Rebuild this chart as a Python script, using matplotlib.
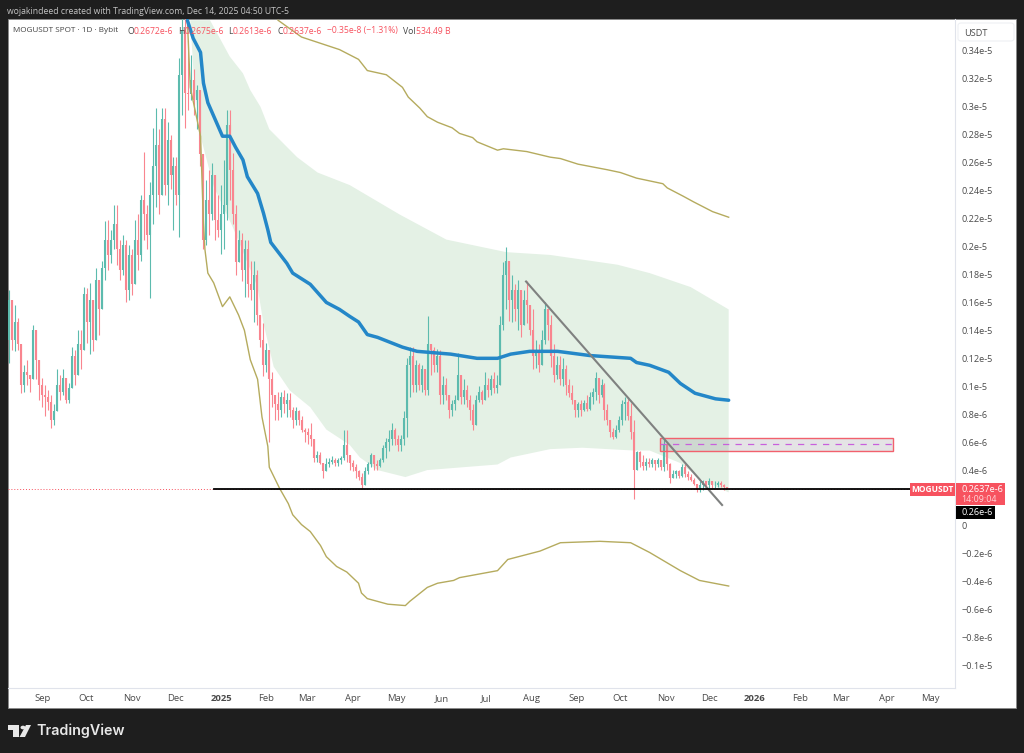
"""MOGUSDT daily chart, TradingView look."""

import numpy as np
import pandas as pd
import matplotlib
matplotlib.use("Agg")
import matplotlib.pyplot as plt
import matplotlib.dates as mdates
from matplotlib.patches import Rectangle, Polygon, Circle, FancyBboxPatch

plt.rcParams["font.family"] = ["Open Sans", "DejaVu Sans"]

# candles, prices in units of 1e-6
highs = [
    1.69, 1.60, 1.58, 1.49, 1.30, 1.15, 1.19, 1.06, 1.44, 1.40,
    1.10, 1.06, 1.01, 0.97, 0.94, 0.87, 1.12, 1.08, 1.12, 1.03,
    1.02, 1.28, 1.26, 1.40, 1.40, 1.71, 1.70, 1.74, 1.62, 1.85,
    1.69, 1.90, 2.18, 2.19, 2.12, 2.30, 2.30, 2.05, 2.08, 2.05,
    2.01, 1.98, 2.19, 2.23, 2.37, 2.68, 2.30, 2.46, 2.85, 2.99,
    2.84, 2.99, 2.99, 2.89, 2.80, 2.64, 2.64, 3.35, 3.70, 3.70,
    3.48, 3.37, 3.27, 3.16, 3.05, 2.62, 2.48, 2.55, 2.60, 2.41,
    2.37, 2.44, 2.62, 2.98, 2.98, 2.67, 2.30, 2.12, 2.10, 2.05,
    2.05, 1.90, 1.90, 1.83, 1.47, 1.45, 1.31, 1.10, 1.10, 0.94,
    0.96, 0.96, 0.97, 0.95, 0.95, 0.85, 0.85, 0.83, 0.79, 0.70,
    0.70, 0.74, 0.56, 0.54, 0.53, 0.45, 0.49, 0.49, 0.50, 0.49,
    0.49, 0.50, 0.69, 0.69, 0.49, 0.47, 0.44, 0.40, 0.38, 0.42,
    0.46, 0.52, 0.51, 0.47, 0.49, 0.58, 0.63, 0.69, 0.74, 0.70,
    0.65, 0.65, 0.82, 1.20, 1.28, 1.28, 1.19, 1.17, 1.15, 1.08,
    1.50, 1.30, 1.28, 1.27, 1.26, 1.07, 1.06, 0.94, 0.90, 0.94,
    1.24, 1.08, 1.05, 1.01, 0.94, 0.87, 0.94, 1.00, 0.97, 1.10,
    1.06, 1.08, 1.10, 1.08, 1.50, 1.89, 2.00, 1.83, 1.80, 1.73,
    1.76, 1.69, 1.69, 1.75, 1.58, 1.55, 1.33, 1.30, 1.40, 1.60,
    1.55, 1.51, 1.30, 1.22, 1.22, 1.20, 1.15, 1.05, 1.01, 0.90,
    0.89, 0.90, 0.90, 0.94, 0.96, 0.99, 1.10, 1.06, 1.05, 1.02,
    0.87, 0.76, 0.70, 0.72, 0.79, 0.90, 0.92, 0.92, 0.88, 0.76,
    0.54, 0.54, 0.51, 0.49, 0.49, 0.49, 0.47, 0.49, 0.47, 0.62,
    0.58, 0.45, 0.40, 0.40, 0.40, 0.44, 0.44, 0.39, 0.37, 0.34,
    0.30, 0.32, 0.33, 0.32, 0.34, 0.32, 0.32, 0.32, 0.32, 0.30,
    0.2675,
]
lows = [
    1.17, 1.26, 1.25, 1.26, 0.95, 0.96, 1.01, 0.96, 1.12, 1.05,
    0.90, 0.85, 0.79, 0.83, 0.70, 0.72, 0.83, 0.90, 0.94, 0.88,
    0.88, 1.08, 1.01, 1.08, 1.12, 1.46, 1.31, 1.23, 1.25, 1.33,
    1.37, 1.62, 1.76, 1.83, 1.88, 1.98, 1.87, 1.76, 1.80, 1.60,
    1.62, 1.65, 2.05, 1.83, 1.90, 2.05, 1.98, 1.63, 2.16, 2.28,
    2.23, 2.41, 2.37, 2.30, 2.41, 2.12, 2.30, 2.07, 2.94, 2.85,
    2.98, 3.05, 2.94, 2.84, 2.58, 1.98, 2.01, 2.08, 2.19, 2.05,
    2.07, 1.95, 1.98, 2.19, 2.33, 2.16, 1.80, 1.90, 1.75, 1.64,
    1.64, 1.62, 1.46, 1.44, 1.28, 1.07, 1.10, 0.60, 0.85, 0.76,
    0.76, 0.78, 0.81, 0.78, 0.78, 0.70, 0.72, 0.72, 0.67, 0.60,
    0.59, 0.57, 0.46, 0.46, 0.44, 0.34, 0.40, 0.42, 0.44, 0.43,
    0.43, 0.44, 0.47, 0.46, 0.40, 0.39, 0.34, 0.33, 0.27, 0.29,
    0.37, 0.42, 0.40, 0.40, 0.42, 0.46, 0.49, 0.54, 0.58, 0.58,
    0.54, 0.54, 0.58, 0.64, 0.92, 0.96, 0.96, 0.97, 0.96, 0.94,
    0.94, 1.08, 1.10, 1.10, 0.87, 0.87, 0.90, 0.77, 0.79, 0.83,
    0.90, 0.87, 0.87, 0.85, 0.76, 0.69, 0.72, 0.89, 0.87, 0.92,
    0.92, 0.94, 0.95, 0.95, 1.01, 1.40, 1.55, 1.47, 1.46, 1.47,
    1.40, 1.35, 1.44, 1.45, 1.37, 1.12, 1.13, 1.10, 1.15, 1.30,
    1.33, 1.14, 1.03, 1.05, 1.01, 1.00, 0.94, 0.92, 0.87, 0.78,
    0.78, 0.79, 0.82, 0.82, 0.83, 0.87, 0.90, 0.88, 0.92, 0.76,
    0.72, 0.64, 0.62, 0.63, 0.67, 0.72, 0.76, 0.76, 0.62, 0.19,
    0.40, 0.42, 0.40, 0.40, 0.42, 0.42, 0.40, 0.42, 0.40, 0.39,
    0.40, 0.31, 0.34, 0.34, 0.34, 0.35, 0.35, 0.33, 0.32, 0.29,
    0.24, 0.24, 0.26, 0.27, 0.27, 0.27, 0.27, 0.28, 0.28, 0.26,
    0.2613,
]
closes = [
    1.62, 1.33, 1.46, 1.30, 1.01, 1.10, 1.08, 1.05, 1.40, 1.19,
    1.01, 0.94, 0.92, 0.89, 0.76, 0.82, 1.01, 0.96, 1.06, 0.90,
    0.99, 1.22, 1.08, 1.30, 1.26, 1.66, 1.46, 1.62, 1.33, 1.76,
    1.55, 1.85, 2.05, 1.94, 2.05, 2.16, 1.98, 1.83, 2.01, 1.69,
    1.94, 1.73, 2.05, 1.94, 2.33, 2.23, 2.08, 2.37, 2.58, 2.73,
    2.37, 2.91, 2.44, 2.76, 2.51, 2.58, 2.37, 3.23, 3.55, 3.10,
    3.09, 3.19, 3.05, 3.12, 2.66, 2.05, 2.33, 2.23, 2.51, 2.19,
    2.12, 2.23, 2.30, 2.87, 2.55, 2.23, 1.89, 2.05, 1.83, 1.98,
    1.73, 1.69, 1.80, 1.51, 1.33, 1.15, 1.26, 1.05, 0.94, 0.87,
    0.83, 0.92, 0.87, 0.90, 0.83, 0.76, 0.82, 0.76, 0.69, 0.67,
    0.65, 0.62, 0.49, 0.51, 0.45, 0.39, 0.44, 0.46, 0.47, 0.45,
    0.47, 0.49, 0.58, 0.51, 0.45, 0.42, 0.39, 0.35, 0.29, 0.39,
    0.44, 0.51, 0.44, 0.43, 0.47, 0.56, 0.60, 0.62, 0.69, 0.62,
    0.58, 0.62, 0.77, 1.15, 1.22, 1.01, 1.15, 1.01, 1.12, 0.97,
    1.30, 1.26, 1.15, 1.22, 0.94, 1.01, 0.94, 0.83, 0.87, 0.90,
    1.08, 0.92, 0.97, 0.90, 0.83, 0.72, 0.90, 0.96, 0.90, 1.01,
    0.97, 1.05, 0.99, 1.01, 1.44, 1.80, 1.90, 1.62, 1.69, 1.55,
    1.69, 1.44, 1.62, 1.58, 1.40, 1.22, 1.26, 1.15, 1.33, 1.55,
    1.44, 1.22, 1.08, 1.15, 1.05, 1.12, 1.01, 0.95, 0.90, 0.83,
    0.87, 0.83, 0.88, 0.84, 0.92, 0.96, 1.06, 0.94, 1.01, 0.83,
    0.76, 0.67, 0.64, 0.69, 0.76, 0.87, 0.89, 0.79, 0.67, 0.40,
    0.53, 0.46, 0.43, 0.46, 0.44, 0.47, 0.44, 0.47, 0.42, 0.59,
    0.44, 0.34, 0.37, 0.39, 0.36, 0.42, 0.37, 0.35, 0.33, 0.30,
    0.26, 0.29, 0.32, 0.29, 0.32, 0.29, 0.29, 0.31, 0.29, 0.28,
    0.2637,
]
first_open = 1.33

# indicators: days since 2025-01-01, value in 1e-6
ma_days = [-23, -19, -14, -12, -9, -4, 1, 6, 10, 15, 18, 25, 29, 32, 34, 45, 49, 61, 72, 81,
           88, 94, 100, 107, 124, 134, 157, 175, 189, 198, 211, 230, 252, 280, 284, 293, 306,
           314, 324, 338, 347]
ma_vals = [3.62, 3.49, 3.39, 3.17, 3.03, 2.91, 2.79, 2.79, 2.71, 2.62, 2.50, 2.38, 2.24, 2.12,
           2.03, 1.88, 1.81, 1.73, 1.60, 1.55, 1.50, 1.46, 1.37, 1.35, 1.28, 1.25, 1.23, 1.20,
           1.20, 1.23, 1.25, 1.25, 1.22, 1.20, 1.17, 1.15, 1.10, 1.02, 0.95, 0.91, 0.90]

band_up_days = [-7.5, 6, 15, 20, 27, 33, 52, 66, 88, 122, 154, 195, 225, 271, 293, 321, 347]
band_up_vals = [3.62, 3.36, 3.24, 3.12, 3.00, 2.84, 2.64, 2.53, 2.44, 2.23, 2.05, 1.96, 1.94,
                1.87, 1.81, 1.71, 1.55]
band_lo_days = [-21, -18, -14, -5, 8, 25, 29, 36, 47, 61, 72, 88, 95, 107, 126, 141, 189, 198,
                225, 247, 282, 293, 314, 327, 347]
band_lo_vals = [3.62, 3.12, 2.79, 2.43, 2.14, 1.71, 1.45, 1.14, 0.97, 0.85, 0.69, 0.58, 0.49,
                0.40, 0.35, 0.40, 0.44, 0.49, 0.55, 0.56, 0.54, 0.54, 0.45, 0.34, 0.24]

outer_up_days = [39, 55, 81, 94, 100, 113, 124, 128, 136, 141, 148, 158, 163, 172, 175, 189, 193,
                 209, 225, 232, 244, 264, 273, 284, 302, 305, 316, 323, 336, 347]
outer_up_vals = [3.62, 3.50, 3.41, 3.34, 3.26, 3.23, 3.14, 3.07, 2.99, 2.93, 2.89, 2.85, 2.81,
                 2.78, 2.75, 2.69, 2.70, 2.68, 2.64, 2.63, 2.59, 2.55, 2.53, 2.49, 2.45, 2.42,
                 2.36, 2.32, 2.25, 2.21]
outer_lo_days = [-23, -21, -14, -12, -11, -9, -5, 1, 6, 12, 16, 20, 25, 28, 32, 33, 40, 46, 49,
                 55, 61, 68, 72, 79, 86, 94, 96, 100, 114, 126, 129, 141, 148, 159, 163, 189,
                 196, 218, 232, 259, 280, 293, 314, 327, 347]
outer_lo_vals = [3.62, 3.14, 2.79, 2.17, 1.98, 1.81, 1.74, 1.57, 1.64, 1.51, 1.40, 1.19, 1.05,
                 0.78, 0.57, 0.42, 0.27, 0.16, 0.08, 0.01, -0.04, -0.14, -0.22, -0.29, -0.33,
                 -0.41, -0.48, -0.52, -0.56, -0.57, -0.54, -0.44, -0.41, -0.39, -0.37, -0.32,
                 -0.24, -0.18, -0.12, -0.11, -0.12, -0.19, -0.32, -0.39, -0.43]

# drawings
trend_days = [208.5, 342.5]
trend_vals = [1.75, 0.15]
support_days = [-5, 471]
support_val = 0.265
last_price = 0.2637
zone_days = [300, 459]
zone_vals = [0.54, 0.63]

# axis labels
y_ticks = [3.4, 3.2, 3.0, 2.8, 2.6, 2.4, 2.2, 2.0, 1.8, 1.6, 1.4, 1.2, 1.0, 0.8, 0.6, 0.4, 0,
           -0.2, -0.4, -0.6, -0.8, -1.0]
y_labels = ["0.34e-5", "0.32e-5", "0.3e-5", "0.28e-5", "0.26e-5", "0.24e-5", "0.22e-5", "0.2e-5",
            "0.18e-5", "0.16e-5", "0.14e-5", "0.12e-5", "0.1e-5", "0.8e-6", "0.6e-6", "0.4e-6", "0",
            "−0.2e-6", "−0.4e-6", "−0.6e-6", "−0.8e-6", "−0.1e-5"]
x_months = ["2024-09-01", "2024-10-01", "2024-11-01", "2024-12-01", "2025-01-01", "2025-02-01",
            "2025-03-01", "2025-04-01", "2025-05-01", "2025-06-01", "2025-07-01", "2025-08-01",
            "2025-09-01", "2025-10-01", "2025-11-01", "2025-12-01", "2026-01-01", "2026-02-01",
            "2026-03-01", "2026-04-01", "2026-05-01"]
x_labels = ["Sep", "Oct", "Nov", "Dec", "2025", "Feb", "Mar", "Apr", "May", "Jun", "Jul", "Aug",
            "Sep", "Oct", "Nov", "Dec", "2026", "Feb", "Mar", "Apr", "May"]

W, H = 1024, 753
BASE = mdates.date2num(pd.Timestamp("2025-01-01"))
UP = "#5cbbae"
DOWN = "#f9858f"
RED = "#f7525f"
OLIVE = "#b5ab5e"
BG = "#1e1e1e"


def d(days):
    return BASE + np.asarray(days, dtype=float)


def fx(x):
    return x / W


def fy(y):
    return 1 - y / H


fig = plt.figure(figsize=(W / 100, H / 100), dpi=100, facecolor=BG)

# white panel including the two axis strips
fig.add_artist(Rectangle((fx(8), fy(708)), 1008 / W, 689 / H, transform=fig.transFigure,
                         fc="white", ec="#8a8a8a", lw=0.6, zorder=0))

ax = fig.add_axes([fx(8), fy(688), 947 / W, 669 / H], facecolor="none")
ax.set_xlim(BASE - 145.6, BASE + 501.7)
ax.set_ylim(-1.16, 3.629)

# ── band ──
ax.fill(np.r_[d(band_up_days), d(band_lo_days)[::-1]],
        np.r_[band_up_vals, band_lo_vals[::-1]],
        color="#e4f1e5", lw=0, zorder=1)

# ── candles ──
candle_x = mdates.date2num(pd.date_range("2024-08-09", "2025-12-13", periods=len(closes)))
closes_arr = np.array(closes)
opens_arr = np.r_[first_open, closes_arr[:-1]]
top = np.maximum(opens_arr, closes_arr)
bottom = np.minimum(opens_arr, closes_arr)
hi = np.maximum(highs, top)
lo = np.minimum(lows, bottom)
is_up = closes_arr >= opens_arr
for mask, col in ((is_up, UP), (~is_up, DOWN)):
    ax.vlines(candle_x[mask], lo[mask], hi[mask], color=col, lw=0.8, zorder=2)
    ax.vlines(candle_x[mask], bottom[mask], top[mask], color=col, lw=1.5, zorder=2)

# ── indicators ──
ax.plot(d(outer_up_days), outer_up_vals, color=OLIVE, lw=1.0, zorder=3)
ax.plot(d(outer_lo_days), outer_lo_vals, color=OLIVE, lw=1.0, zorder=3)
ax.plot(d(ma_days), ma_vals, color="#2487c8", lw=2.5, zorder=4,
        solid_capstyle="round", solid_joinstyle="round")

# ── drawings ──
ax.add_patch(Rectangle((d(zone_days[0]), zone_vals[0]), zone_days[1] - zone_days[0],
                       zone_vals[1] - zone_vals[0], fc="#78788033", ec="#f2616d", lw=1, zorder=5))
ax.plot(d(zone_days), [sum(zone_vals) / 2] * 2, color="#c860dc", lw=0.9, ls=(0, (5, 5)), zorder=5)
ax.plot(d(trend_days), trend_vals, color="#7f8180", lw=1.5, zorder=6)
ax.axhline(last_price, color=RED, lw=0.7, ls=(0, (1, 2)), zorder=6)
ax.plot(d(support_days), [support_val] * 2, color="black", lw=1.3, zorder=7)

# ── axes ──
for name, sp in ax.spines.items():
    sp.set_visible(name in ("right", "bottom"))
    sp.set_color("#e0e3eb")
    sp.set_linewidth(0.8)
ax.yaxis.tick_right()
ax.set_yticks(y_ticks, y_labels)
ax.set_xticks(mdates.date2num(pd.to_datetime(x_months)), x_labels)
ax.tick_params(axis="y", length=0, pad=4.5, labelsize=6.6, labelcolor="#4a4a4a")
ax.tick_params(axis="x", length=0, pad=4.5, labelsize=6.8, labelcolor="#4a4a4a")
for lab in ax.get_xticklabels():
    if lab.get_text() in ("2025", "2026"):
        lab.set_fontweight("bold")

# ── header texts ──
fig.text(fx(7), fy(11), "wojakindeed created with TradingView.com, Dec 14, 2025 04:50 UTC-5",
         color="#c4c4c4", fontsize=6.25, va="center")
fig.text(fx(13), fy(31), "MOGUSDT SPOT · 1D · Bybit", color="#444444", fontsize=5.9, va="center", zorder=10)
legend_items = [
    (128, "O", "#444444"), (134, "0.2672e-6", RED), (178, "H", "#444444"), (185, "0.2675e-6", RED),
    (228, "L", "#444444"), (233, "0.2613e-6", RED), (277, "C", "#444444"), (283, "0.2637e-6", RED),
    (327, "−0.35e-8 (−1.31%)", RED), (403, "Vol", "#444444"), (416, "534.49 B", RED),
]
for px, txt, col in legend_items:
    fig.text(fx(px), fy(31), txt, color=col, fontsize=6.2, va="center", zorder=10)

# unit box on the price scale
fig.add_artist(FancyBboxPatch((fx(958), fy(41)), 56 / W, 18 / H, transform=fig.transFigure,
                              boxstyle="round,pad=0,rounding_size=0.003", fc="white", ec="#eceef2", lw=0.7))
fig.text(fx(964), fy(33), "USDT", color="#4a4a4a", fontsize=6.6, va="center")

# price tags
fig.add_artist(Rectangle((fx(910), fy(496)), 45 / W, 13 / H, transform=fig.transFigure, fc=RED, lw=0, zorder=8))
fig.text(fx(932.5), fy(489.5), "MOGUSDT", color="white", fontsize=6, fontweight="bold",
         ha="center", va="center", zorder=9)
fig.add_artist(Rectangle((fx(956), fy(505)), 49 / W, 22 / H, transform=fig.transFigure, fc=RED, lw=0, zorder=8))
fig.text(fx(961), fy(489), "0.2637e-6", color="white", fontsize=6.6, va="center", zorder=9)
fig.text(fx(961), fy(499), "14:09:04", color="#ffd5d8", fontsize=6.4, va="center", zorder=9)
fig.add_artist(Rectangle((fx(956), fy(519)), 39 / W, 13 / H, transform=fig.transFigure, fc="black", lw=0, zorder=8))
fig.text(fx(961), fy(512.5), "0.26e-6", color="white", fontsize=6.6, va="center", zorder=9)

# ── footer logo ──
LOGO = "#e8e8e8"
fig.add_artist(Polygon([(fx(8), fy(725)), (fx(19), fy(725)), (fx(19), fy(737)), (fx(13), fy(737)),
                        (fx(13), fy(730)), (fx(8), fy(730))], transform=fig.transFigure, fc=LOGO, lw=0))
fig.add_artist(Circle((fx(23), fy(727.5)), 2.5 / W, transform=fig.transFigure, fc=LOGO, lw=0))
fig.add_artist(Polygon([(fx(26), fy(725)), (fx(31), fy(725)), (fx(25), fy(737)), (fx(19.5), fy(737))],
                       transform=fig.transFigure, fc=LOGO, lw=0))
fig.text(fx(36), fy(731), "TradingView", color=LOGO, fontsize=10.3, fontweight="semibold",
         va="center", family=["Inter", "DejaVu Sans"])

fig.savefig("out.png", dpi=100, facecolor=BG)
